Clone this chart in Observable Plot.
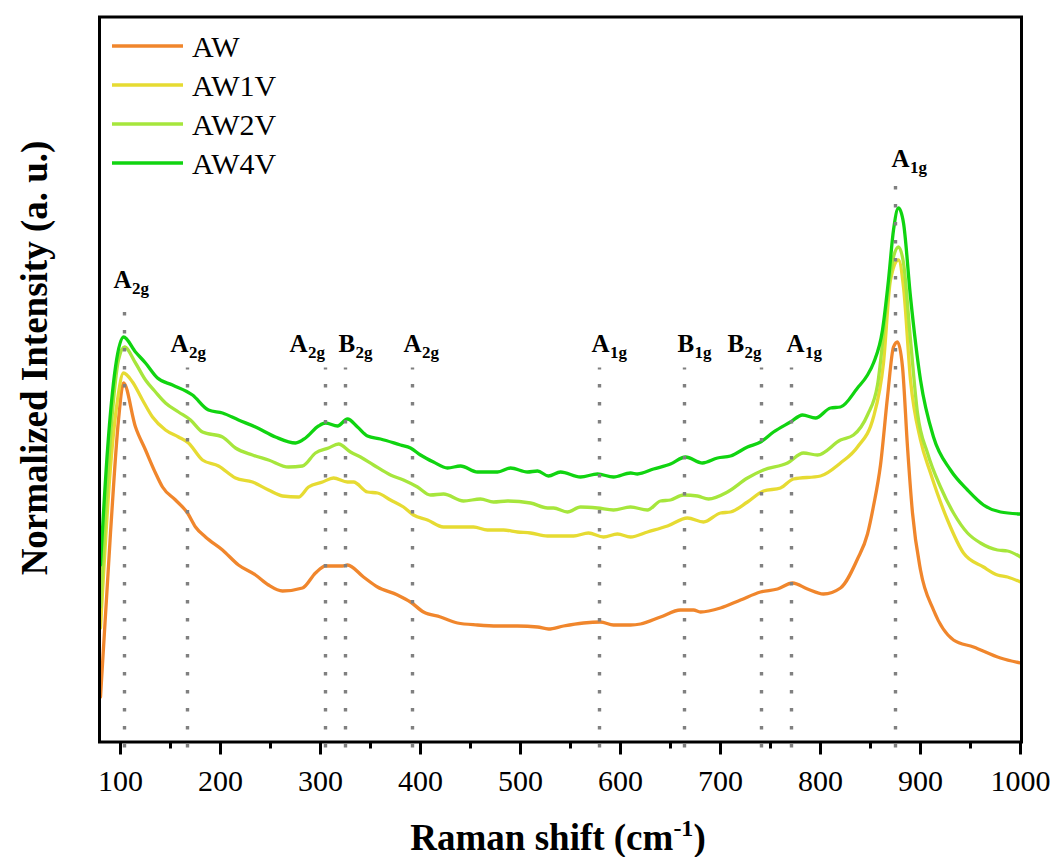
<!DOCTYPE html>
<html><head><meta charset="utf-8">
<script src="https://cdn.jsdelivr.net/npm/d3@7"></script>
<script src="https://cdn.jsdelivr.net/npm/@observablehq/plot@0.6"></script>
<style>body{margin:0;background:#fff}</style>
</head><body><div id="chart"></div>
<script>
const seriesNames = ["AW", "AW1V", "AW2V", "AW4V"];
const seriesColors = ["#F0862C", "#E6DB32", "#A6E63C", "#10D410"];

const awShift = [80,90,98,103,115,125,135,142,155,167,175,185,202,218,235,248,262,282,295,305,322,327,343,357,377,390,403,420,437,457,477,497,517,528,543,563,580,593,610,620,640,660,673,680,700,720,740,757,772,787,803,820,837,847,853,860,867,873,877,882,887,892,900,913,933,953,980,1000];
const awInt = [45,209,322,359,315,292,269,255,242,229,215,205,192,177,167,157,151,154,169,176,176,177,165,155,147,140,130,125,119,117,116,116,115,113,116,119,120,117,117,118,125,132,132,130,134,142,150,153,159,153,148,154,183,208,236,277,345,395,400,375,295,229,172,132,102,95,84,79];

const aw1vShift = [80,90,97,103,112,122,132,145,158,168,182,198,215,232,248,262,278,288,302,313,327,333,347,357,370,383,393,407,423,453,467,483,497,510,527,553,568,583,597,610,627,647,667,683,700,710,727,743,760,773,800,820,837,853,863,870,878,883,890,900,910,927,943,963,977,987,1000];
const aw1vInt = [114,275,342,369,360,342,325,312,305,299,282,276,264,260,252,246,245,255,260,264,260,260,250,249,242,235,227,222,215,215,212,212,210,209,206,206,209,205,208,205,210,216,224,220,229,230,240,251,254,263,266,279,295,325,379,462,482,455,362,302,269,222,189,175,167,165,160];

const aw2vShift = [80,93,98,104,115,125,135,145,158,170,182,202,215,232,248,268,282,295,308,318,330,340,353,370,383,397,410,423,443,460,473,487,510,527,533,547,560,577,593,610,627,640,650,663,677,688,707,727,743,767,783,797,820,833,847,857,867,873,878,883,890,897,907,920,933,947,960,977,987,1000];
const aw2vInt = [135,342,382,395,379,362,350,339,330,322,310,305,294,287,282,275,276,289,294,298,290,285,277,267,262,255,247,248,241,243,240,241,239,234,234,230,235,234,232,235,232,241,242,247,246,243,250,264,272,279,289,287,302,307,327,357,445,485,495,479,402,329,289,255,229,209,199,192,191,185];

const aw4vShift = [80,87,95,103,115,125,137,152,172,188,202,218,235,255,275,285,298,305,317,327,337,347,360,380,390,400,413,427,440,457,477,490,507,517,528,540,560,577,593,610,617,633,650,665,682,697,710,727,740,753,770,782,795,810,820,837,847,853,862,868,873,878,883,890,900,913,930,947,963,980,1000];
const aw4vInt = [177,292,375,405,390,379,364,357,347,332,329,322,315,305,299,304,316,319,316,323,315,306,303,297,294,287,280,274,276,270,270,274,270,271,266,270,265,268,265,269,268,273,278,285,279,284,286,295,300,310,320,327,324,334,335,354,367,379,412,462,512,534,519,445,362,305,272,252,237,230,228];

// Raman mode assignments
const peakShift = [104,167,305,325,392,579,664,741,771,875];
const peakMode  = ["A","A","A","B","A","A","B","B","A","A"];
const peakSub   = ["2g","2g","2g","2g","2g","1g","1g","2g","1g","1g"];
const peakTop   = [438,374,374,374,374,374,374,374,374,559];
const labelAt   = [93,150,269,318,383,571,657,707,766,871];

const xTicks = [100,200,300,400,500,600,700,800,900,1000];
const xMinorTicks = [150,250,350,450,550,650,750,850,950];

const font = "'Liberation Serif','Times New Roman',Times,serif";

const rows = [];
function addSeries(name, xs, ys) { xs.forEach((x, i) => rows.push({series: name, shift: x, intensity: ys[i]})); }
addSeries("AW", awShift, awInt);
addSeries("AW1V", aw1vShift, aw1vInt);
addSeries("AW2V", aw2vShift, aw2vInt);
addSeries("AW4V", aw4vShift, aw4vInt);

const peaks = peakShift.map((s, i) => ({shift: s, top: peakTop[i], mode: peakMode[i], sub: peakSub[i], at: labelAt[i]}));

const plot = Plot.plot({
  width: 1054, height: 857,
  marginLeft: 99, marginRight: 33, marginTop: 16.5, marginBottom: 115.5,
  style: {fontFamily: font, color: "black", background: "white"},
  x: {domain: [79, 1001]},
  y: {domain: [0, 725], axis: null},
  color: {domain: seriesNames, range: seriesColors},
  marks: [
    Plot.line(rows, {x: "shift", y: "intensity", z: "series", stroke: "series", strokeWidth: 3.3, curve: "monotone-x"}),
    Plot.ruleX(peaks, {x: "shift", y1: -6, y2: "top", stroke: "#808080", strokeWidth: 3.4, strokeDasharray: "3.4 14.6"}),
    Plot.text(peaks, {x: "at", y: "top", text: "mode", dy: -16, textAnchor: "start", lineAnchor: "bottom", fontSize: 25, fontWeight: "bold"}),
    Plot.text(peaks.filter(d => d.mode === "A"), {x: "at", y: "top", text: "sub", dx: 18.5, dy: -10, textAnchor: "start", lineAnchor: "bottom", fontSize: 17, fontWeight: "bold"}),
    Plot.text(peaks.filter(d => d.mode === "B"), {x: "at", y: "top", text: "sub", dx: 17, dy: -10, textAnchor: "start", lineAnchor: "bottom", fontSize: 17, fontWeight: "bold"}),
    Plot.axisX({ticks: xTicks, tickSize: 13, tickPadding: 15, fontSize: 30, strokeWidth: 3, label: null, tickFormat: d => String(d)}),
    Plot.axisX({ticks: xMinorTicks, tickSize: 7, strokeWidth: 3, label: null, tickFormat: () => ""}),
    Plot.frame({stroke: "black", strokeWidth: 3})
  ]
});

const svg = d3.select(plot);
const lg = svg.append("g").attr("font-family", font).attr("text-anchor", "start");
seriesNames.forEach((n, i) => {
  lg.append("line").attr("x1", 112).attr("x2", 183).attr("y1", 46 + 39 * i).attr("y2", 46 + 39 * i)
    .attr("stroke", seriesColors[i]).attr("stroke-width", 3.5);
  lg.append("text").attr("x", 192).attr("y", 57 + 39 * i).attr("font-size", 30).attr("fill", "black")
    .attr("text-anchor", "start").text(n);
});

const xt = svg.append("text").attr("x", 558).attr("y", 850).attr("text-anchor", "middle")
  .attr("font-size", 37).attr("font-weight", "bold").attr("font-family", font).attr("fill", "black");
xt.append("tspan").text("Raman shift (cm");
xt.append("tspan").attr("dy", -14).attr("font-size", 24).text("-1");
xt.append("tspan").attr("dy", 14).text(")");

svg.append("text").attr("transform", "translate(47,358) rotate(-90)").attr("text-anchor", "middle")
  .attr("font-size", 37).attr("font-weight", "bold").attr("font-family", font).attr("fill", "black")
  .text("Normalized Intensity (a. u.)");

document.getElementById("chart").appendChild(plot);
</script>
</body></html>
